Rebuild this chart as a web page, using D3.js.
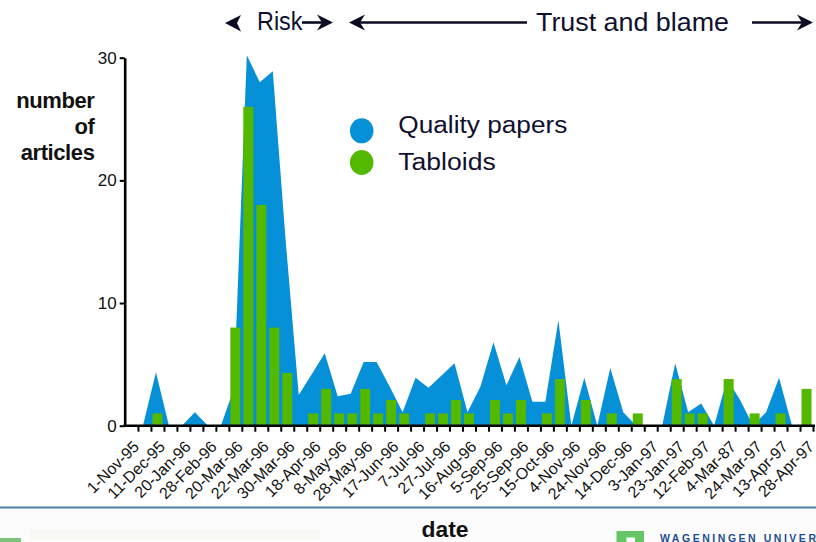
<!DOCTYPE html>
<html>
<head>
<meta charset="utf-8">
<script src="https://cdn.jsdelivr.net/npm/d3@7"></script>
<style>
  html, body { margin: 0; padding: 0; background: #ffffff; }
  svg { display: block; font-family: "Liberation Sans", Arial, sans-serif; }
</style>
</head>
<body>
<svg id="chart" width="816" height="542"></svg>
<script>
// ---- data ----
// one value per time slot (53 slots)
const qualityPapers = [0, 0, 4.35, 0, 0, 1.1, 0, 0, 3, 30.2, 28, 28.9, 15, 2.5, 4.2, 5.9, 2.4, 2.6, 5.2, 5.2,
  3.2, 1.1, 3.9, 3.1, 4.1, 5.1, 1.1, 3.2, 6.8, 3.3, 5.6, 1.95, 1.95, 8.6, 0, 3.9, 0, 4.7, 1.1, 0,
  0, 0, 5.1, 1.1, 1.8, 0, 3.8, 2.1, 0, 1.1, 3.9, 0, 0];
const tabloids = [0, 0, 1, 0, 0, 0, 0, 0, 8, 26, 18, 8, 4.3, 0, 1, 3, 1, 1, 3, 1,
  2.1, 1, 0, 1, 1, 2.1, 1, 0, 2.1, 1, 2.1, 0, 1, 3.8, 0, 2.1, 0, 1, 0, 1,
  0, 0, 3.8, 1, 1, 0, 3.8, 0, 1, 0, 1, 0, 3];
const dateLabels = ["1-Nov-95", "11-Dec-95", "20-Jan-96", "28-Feb-96", "20-Mar-96", "22-Mar-96", "30-Mar-96",
  "18-Apr-96", "8-May-96", "28-May-96", "17-Jun-96", "7-Jul-96", "27-Jul-96", "16-Aug-96", "5-Sep-96",
  "25-Sep-96", "15-Oct-96", "4-Nov-96", "24-Nov-96", "14-Dec-96", "3-Jan-97", "23-Jan-97", "12-Feb-97",
  "4-Mar-87", "24-Mar-97", "13-Apr-97", "28-Apr-97"];
const yTicks = [0, 10, 20, 30];
const seriesNames = ["Quality papers", "Tabloids"];
const seriesColors = ["#0590d8", "#52b800"];

// ---- layout ----
const svg = d3.select("#chart");
const x0 = 125, x1 = 813, yBase = 425.7, yTop = 57.7;
const slots = d3.range(qualityPapers.length);

const x = d3.scaleBand().domain(slots).range([x0, x1]).paddingInner(0.23).paddingOuter(0.115);
const cx = i => x(i) + x.bandwidth() / 2;
const xLin = d3.scaleLinear().domain([0, slots.length]).range([x0, x1]);
const y = d3.scaleLinear().domain([0, 30]).range([yBase, yTop]);
const xLab = d3.scalePoint().domain(dateLabels).range([cx(0), cx(slots.length - 1)]);

// ---- quality papers area ----
const area = d3.area()
  .x((d, i) => cx(i) - 1.5)
  .y0(y(0))
  .y1(d => y(d))
  .curve(d3.curveLinear);
svg.append("path").datum(qualityPapers)
  .attr("d", area)
  .attr("fill", seriesColors[0]);

// ---- tabloid bars ----
svg.append("g").selectAll("rect").data(tabloids).join("rect")
  .attr("x", (d, i) => x(i))
  .attr("width", x.bandwidth())
  .attr("y", d => y(d))
  .attr("height", d => y(0) - y(d))
  .attr("fill", seriesColors[1]);

// ---- axes ----
const xAxis = svg.append("g").attr("transform", `translate(0,${yBase})`)
  .call(d3.axisBottom(xLin).tickValues(d3.range(1, slots.length + 1)).tickFormat("").tickSize(6).tickSizeOuter(0));
xAxis.select(".domain").attr("stroke", "#000").attr("stroke-width", 2.6).attr("d", `M${x0 - 1.5},0H${x1 + 2}`);
xAxis.selectAll(".tick line").attr("stroke", "#000").attr("stroke-width", 2);

const labAxis = svg.append("g").attr("transform", `translate(0,${yBase})`)
  .call(d3.axisBottom(xLab).tickSize(0));
labAxis.select(".domain").remove();
labAxis.selectAll(".tick text")
  .attr("x", 0).attr("y", 0).attr("dy", 0)
  .attr("text-anchor", "end")
  .attr("transform", "translate(8,22) rotate(-45)")
  .attr("font-size", 16)
  .attr("font-family", "Liberation Sans, Arial, sans-serif")
  .attr("fill", "#111");

const yAxis = svg.append("g").attr("transform", `translate(${x0 - 0.3},0)`)
  .call(d3.axisLeft(y).tickValues(yTicks).tickSize(5).tickSizeOuter(0));
yAxis.select(".domain").attr("stroke", "#000").attr("stroke-width", 2.6);
yAxis.selectAll(".tick line").attr("stroke", "#000").attr("stroke-width", 2);
yAxis.selectAll(".tick text")
  .attr("font-size", 17)
  .attr("font-family", "Liberation Sans, Arial, sans-serif")
  .attr("fill", "#111");

// ---- y title ----
const yTitle = svg.append("text").attr("text-anchor", "end")
  .attr("font-size", 22).attr("font-weight", "bold").attr("fill", "#111")
  .attr("letter-spacing", -0.4);
[["number", 108.3], ["of", 133.5], ["articles", 159.5]].forEach(([t, yy]) => {
  yTitle.append("tspan").attr("x", 94.5).attr("y", yy).text(t);
});

// ---- legend ----
const legend = svg.append("g");
const legendText = [{ y: 133, len: 169 }, { y: 170, len: 97.4 }];
seriesNames.forEach((name, i) => {
  const ly = 130.8 + i * 31.7;
  legend.append("ellipse").attr("cx", 361.7).attr("cy", ly).attr("rx", 11.8).attr("ry", 12.5)
    .attr("fill", seriesColors[i]);
  legend.append("text").attr("x", 398.3).attr("y", legendText[i].y)
    .attr("font-size", 23.5)
    .attr("fill", "#10102e")
    .attr("textLength", legendText[i].len)
    .attr("lengthAdjust", "spacingAndGlyphs")
    .text(name);
});

// ---- header arrows ----
const ink = "#0b0b22";
const hdr = svg.append("g");
hdr.append("path").attr("d", "M225,23 L241,15 L237,23 L241,31.5 Z").attr("fill", ink);
hdr.append("text").attr("x", 257).attr("y", 29.5).attr("font-size", 25).attr("fill", "#10102e")
  .attr("textLength", 45.5).attr("lengthAdjust", "spacingAndGlyphs").text("Risk");
hdr.append("line").attr("x1", 302).attr("x2", 323).attr("y1", 22.5).attr("y2", 22.5)
  .attr("stroke", ink).attr("stroke-width", 2.6);
hdr.append("path").attr("d", "M333,22.5 L317,14.5 L322,22.5 L317,30.5 Z").attr("fill", ink);
hdr.append("path").attr("d", "M349,22.5 L365,14.5 L360,22.5 L365,30.5 Z").attr("fill", ink);
hdr.append("line").attr("x1", 358).attr("x2", 527).attr("y1", 22.5).attr("y2", 22.5)
  .attr("stroke", ink).attr("stroke-width", 2.6);
hdr.append("text").attr("x", 536).attr("y", 31).attr("font-size", 25).attr("fill", "#10102e")
  .attr("textLength", 193).attr("lengthAdjust", "spacingAndGlyphs").text("Trust and blame");
hdr.append("line").attr("x1", 752).attr("x2", 803).attr("y1", 22.5).attr("y2", 22.5)
  .attr("stroke", ink).attr("stroke-width", 2.6);
hdr.append("path").attr("d", "M813,22.5 L797,14.5 L802,22.5 L797,30.5 Z").attr("fill", ink);

// ---- footer ----
svg.append("rect").attr("x", 0).attr("y", 508.5).attr("width", 816).attr("height", 33.5).attr("fill", "#fcfcfc");
svg.append("line").attr("x1", 0).attr("x2", 816).attr("y1", 507.5).attr("y2", 507.5)
  .attr("stroke", "#4a7ea8").attr("stroke-width", 2);
svg.append("rect").attr("x", 30).attr("y", 529).attr("width", 290).attr("height", 11).attr("fill", "#f8f9f5");
svg.append("rect").attr("x", 0).attr("y", 538).attr("width", 21).attr("height", 4).attr("fill", "#7cc47c");
svg.append("text").attr("x", 421.5).attr("y", 537).attr("font-size", 22).attr("font-weight", "bold")
  .attr("fill", "#111").attr("textLength", 47).attr("lengthAdjust", "spacingAndGlyphs").text("date");
svg.append("rect").attr("x", 616.5).attr("y", 531).attr("width", 27.5).attr("height", 11).attr("fill", "#66c566");
svg.append("rect").attr("x", 626.5).attr("y", 537.5).attr("width", 8.5).attr("height", 5).attr("fill", "#ffffff");
svg.append("text").attr("x", 660).attr("y", 541.5).attr("font-size", 10.5).attr("font-weight", "bold")
  .attr("fill", "#1f4e8c").attr("textLength", 156).attr("lengthAdjust", "spacing").text("WAGENINGEN UNIVER");
</script>
</body>
</html>
